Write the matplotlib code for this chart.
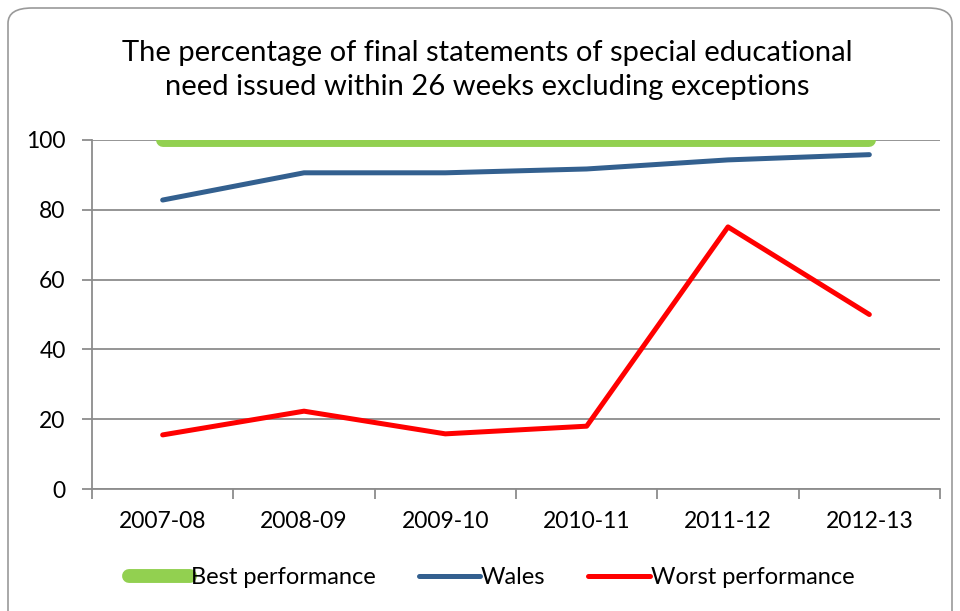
import matplotlib
matplotlib.use("Agg")
import matplotlib.pyplot as plt
from matplotlib.patches import FancyBboxPatch
import numpy as np

categories = ["2007-08", "2008-09", "2009-10", "2010-11", "2011-12", "2012-13"]
best = [100, 100, 100, 100, 100, 100]
wales = [82.8, 90.6, 90.6, 91.7, 94.3, 95.8]
worst = [15.5, 22.3, 15.8, 18.0, 75.1, 50.0]
yticks = [0, 20, 40, 60, 80, 100]
title = "The percentage of final statements of special educational\nneed issued within 26 weeks excluding exceptions"

plt.rcParams['font.family'] = ['Lato', 'DejaVu Sans']

fig = plt.figure(figsize=(9.6, 6.11), dpi=100)
border = FancyBboxPatch((8/960, -0.05), 1 - 16/960, 1.05 - 8/611,
                        boxstyle="round,pad=0,rounding_size=0.025",
                        transform=fig.transFigure, fill=False,
                        edgecolor="#9a9a9a", linewidth=1.2)
fig.patches.append(border)

ax = fig.add_axes([92/960, 1 - 489/611, (940 - 92)/960, (489 - 140)/611])
x = np.arange(len(categories))
ax.plot(x, best, color="#92d050", lw=10, solid_capstyle="round", label="Best performance", zorder=3)
ax.plot(x, wales, color="#33608f", lw=3.6, solid_capstyle="round", label="Wales", zorder=3)
ax.plot(x, worst, color="#ff0000", lw=3.6, solid_capstyle="round", label="Worst performance", zorder=3)

ax.set_xlim(-0.5, len(categories) - 0.5)
ax.set_ylim(0, 100)
ax.set_yticks(yticks)
ax.set_yticklabels([str(v) for v in yticks], fontsize=16.5)
ax.yaxis.grid(True, color="#8c8c8c", lw=1.3)
ax.set_axisbelow(True)
ax.set_xticks(np.arange(-0.5, len(categories), 1.0))
ax.set_xticklabels([])
ax.set_xticks(x, minor=True)
ax.set_xticklabels(categories, minor=True, fontsize=16.5)
ax.tick_params(axis='x', which='major', length=7, color="#8c8c8c", width=1.3)
ax.tick_params(axis='x', which='minor', length=0, pad=16)
ax.tick_params(axis='y', length=7, color="#8c8c8c", width=1.3, pad=12)
for s in ["top", "right"]:
    ax.spines[s].set_visible(False)
for s in ["left", "bottom"]:
    ax.spines[s].set_color("#8c8c8c")
    ax.spines[s].set_linewidth(1.3)

fig.text(0.508, 1 - 70/611, title, ha="center", va="center", fontsize=21, linespacing=1.42)

leg = fig.legend(loc="center", bbox_to_anchor=(0.512, 1 - 578/611), ncol=3, frameon=False,
                 fontsize=17, handlelength=2.6, handletextpad=0.05, columnspacing=1.8)

fig.savefig("out.png", dpi=100)
